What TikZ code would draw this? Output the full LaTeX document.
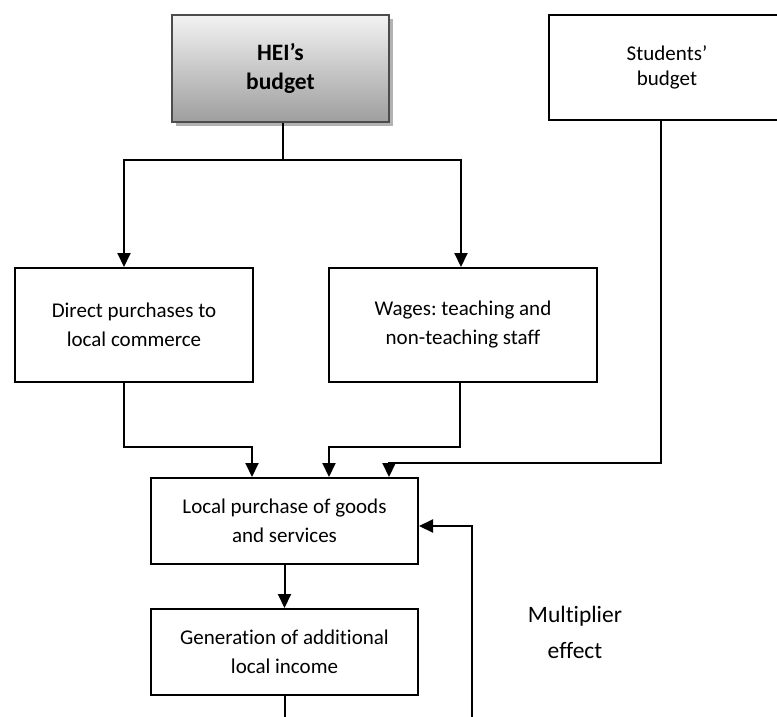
\documentclass[tikz,border=0pt]{standalone}
\usepackage{fontspec}
\setmainfont{Carlito}[Ligatures=NoCommon]
\usetikzlibrary{arrows.meta,shadows}
\frenchspacing
\begin{document}
\begin{tikzpicture}[x=1pt,y=-1pt,line width=2pt,
  >={Triangle[length=14pt,width=13pt]},
  box/.style={draw,inner sep=0pt,align=center,font=\fontsize{21}{29}\selectfont},
  headbox/.style={draw=black!70,inner sep=0pt,align=center,top color=black!5,bottom color=black!38,
    drop shadow={shadow xshift=4pt,shadow yshift=-4pt,fill=black!30,opacity=1},
    font=\fontsize{23.5}{29}\selectfont\bfseries}]
\useasboundingbox (0,0) rectangle (777,716);
\clip (0,0) rectangle (777,716);
\node[headbox,minimum width=217pt,minimum height=107pt] (hei) at (280.5,68.5) {HEI’s\\budget};
\node[box,minimum width=236pt,minimum height=105pt,font=\fontsize{21}{25}\selectfont] (stud) at (667,67.5) {Students’\\budget};
\node[box,minimum width=238pt,minimum height=114pt] (direct) at (134,325) {Direct purchases to\\local commerce};
\node[box,minimum width=268pt,minimum height=114pt] (wages) at (463,325) {Wages: teaching and\\non-teaching staff};
\node[box,minimum width=267pt,minimum height=86pt] (local) at (284.5,521) {Local purchase of goods\\and services};
\node[box,minimum width=267pt,minimum height=86pt] (gen) at (284.5,652) {Generation of additional\\local income};
\node[align=center,font=\fontsize{23.5}{36}\selectfont] (mult) at (575,632) {Multiplier\\effect};
\coordinate (b1) at (283,730);
\coordinate (b2) at (472,730);
\draw ([xshift=2.5pt]hei.south) -- ++(0,37) coordinate (j);
\draw[->] (j) -| ([xshift=-10pt]direct.north);
\draw[->] (j) -| ([xshift=-2pt]wages.north);
\draw[->] ([xshift=-10pt]direct.south) -- ++(0,64) -| ([xshift=-32.5pt]local.north);
\draw[->] ([xshift=-3pt]wages.south) -- ++(0,64) -| ([xshift=44.5pt]local.north);
\draw[->] ([xshift=-6pt]stud.south) -- ++(0,342) -| ([xshift=104.5pt]local.north);
\draw[->] (local.south) -- (gen.north);
\draw (gen.south) -- (gen.south |- b1);
\draw[->] (b2) |- ([yshift=-5pt]local.east);
\end{tikzpicture}
\end{document}
